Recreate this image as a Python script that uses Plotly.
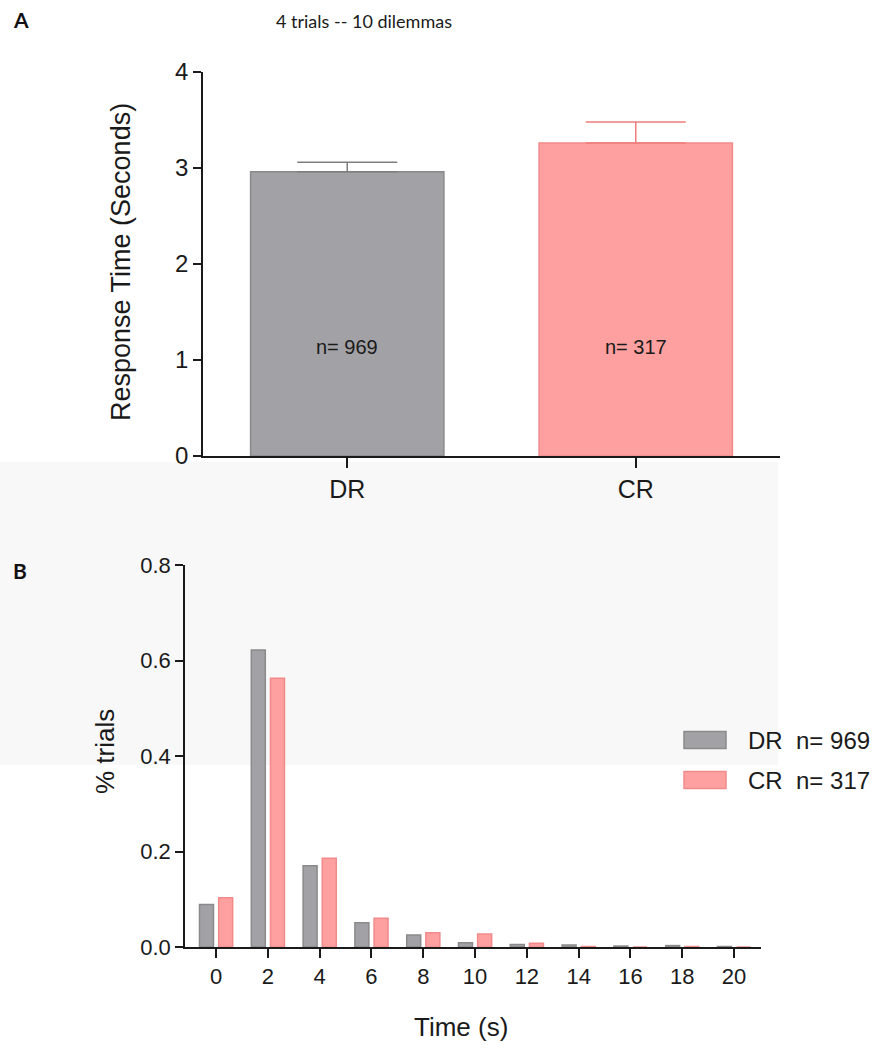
import plotly.graph_objects as go

# ---------------- data ----------------
groups = ["DR", "CR"]
mean_rt = [2.96, 3.26]
sem_rt = [0.10, 0.22]
n_trials = [969, 317]

time_bins = [0, 2, 4, 6, 8, 10, 12, 14, 16, 18, 20]
dr_frac = [0.089, 0.622, 0.170, 0.051, 0.025, 0.009, 0.005, 0.004, 0.002, 0.003, 0.001]
cr_frac = [0.103, 0.563, 0.186, 0.060, 0.030, 0.027, 0.008, 0.001, 0.0, 0.001, 0.0]

fill_cols = ["#A2A2A6", "#FFA0A0"]
line_cols = ["#8A8A8C", "#F28A8A"]
err_cols = ["#7E7E80", "#F07C7C"]

W, H = 874, 1048
FONT = "Liberation Sans, Arial, sans-serif"
INK = "#1a1a1a"


def px(x):
    return x / W


def py(y):
    return 1 - y / H


fig = go.Figure()

# ---------------- panel A ----------------
for i, g in enumerate(groups):
    fig.add_trace(go.Bar(
        x=[g], y=[mean_rt[i]], width=0.67, offset=-0.335,
        marker=dict(color=fill_cols[i], line=dict(color=line_cols[i], width=1.5)),
        error_y=dict(type="data", symmetric=False, array=[sem_rt[i]], arrayminus=[0],
                     color=err_cols[i], thickness=1.5, width=50),
        xaxis="x", yaxis="y", showlegend=False, name=g,
    ))

# ---------------- panel B ----------------
for i, (g, vals) in enumerate([("DR", dr_frac), ("CR", cr_frac)]):
    fig.add_trace(go.Bar(
        x=time_bins, y=vals, width=0.54, offset=(-0.64 if i == 0 else 0.10),
        marker=dict(color=fill_cols[i], line=dict(color=line_cols[i], width=1.5)),
        xaxis="x2", yaxis="y2", showlegend=False, name=g,
    ))


def ax(size, **kw):
    d = dict(showline=True, linecolor=INK, linewidth=1.5, ticks="outside",
             tickcolor=INK, tickwidth=1.5, showgrid=False, zeroline=False, automargin=False,
             tickfont=dict(family=FONT, size=size, color=INK))
    d.update(kw)
    return d


fig.update_layout(
    width=W, height=H,
    margin=dict(l=0, r=0, t=0, b=0, pad=0, autoexpand=False),
    paper_bgcolor="white", plot_bgcolor="rgba(0,0,0,0)",
    showlegend=False,
    xaxis=ax(25, domain=[px(203), px(780)], range=[-0.5, 1.5], type="category",
             categoryorder="array", categoryarray=groups, ticklen=10, anchor="y"),
    yaxis=ax(24, domain=[py(456), py(72)], range=[0, 4], tickvals=[0, 1, 2, 3, 4],
             ticklen=8, anchor="x"),
    xaxis2=ax(22, domain=[px(185), px(761)], range=[-1.2, 21.04], tickvals=time_bins,
              ticklen=9, anchor="y2"),
    yaxis2=ax(22, domain=[py(947), py(565)], range=[0, 0.8], tickvals=[0, 0.2, 0.4, 0.6, 0.8],
              tickformat=".1f", ticklen=8, anchor="x2"),
)

# faint watermark band behind everything (background decoration)
fig.add_shape(type="rect", xref="paper", yref="paper", x0=0, x1=px(778), y0=py(765), y1=py(462),
              fillcolor="#F8F8F8", line=dict(width=0), layer="below")

ann = []


def note(text, x, y, size, family=FONT, angle=0, xanchor="center", color=INK):
    ann.append(dict(text=text, x=px(x), y=py(y), xref="paper", yref="paper",
                    xanchor=xanchor, yanchor="middle", textangle=angle, showarrow=False,
                    font=dict(family=family, size=size, color=color)))


# panel labels and title
note("<b>A</b>", 11, 20, 21, family="Lato, Open Sans", xanchor="left", color="#111")
note("<b>B</b>", 11, 570, 21, family="Lato, Open Sans", xanchor="left", color="#111")
note("4 trials -- 10 dilemmas", 274, 21, 18, family="Lato, Open Sans", xanchor="left")

# axis titles
note("Response Time (Seconds)", 121, 262, 27, angle=-90)
note("% trials", 105, 752, 26, angle=-90)
note("Time (s)", 461, 1027, 26)

# n labels inside bars
for i, g in enumerate(groups):
    ann.append(dict(text=f"n= {n_trials[i]}", x=g, y=1.14, xref="x", yref="y",
                    xanchor="center", yanchor="middle", showarrow=False,
                    font=dict(family=FONT, size=20, color=INK)))

# custom legend (panel B)
leg_y = [740, 780]
for i, g in enumerate(groups):
    fig.add_shape(type="rect", xref="paper", yref="paper",
                  x0=px(684), x1=px(726), y0=py(leg_y[i] + 8.5), y1=py(leg_y[i] - 8.5),
                  fillcolor=fill_cols[i], line=dict(color=line_cols[i], width=1.5))
    note(f"{g}  n= {n_trials[i]}", 746, leg_y[i], 24, xanchor="left")

fig.update_layout(annotations=ann)
fig.write_html("out.html")
